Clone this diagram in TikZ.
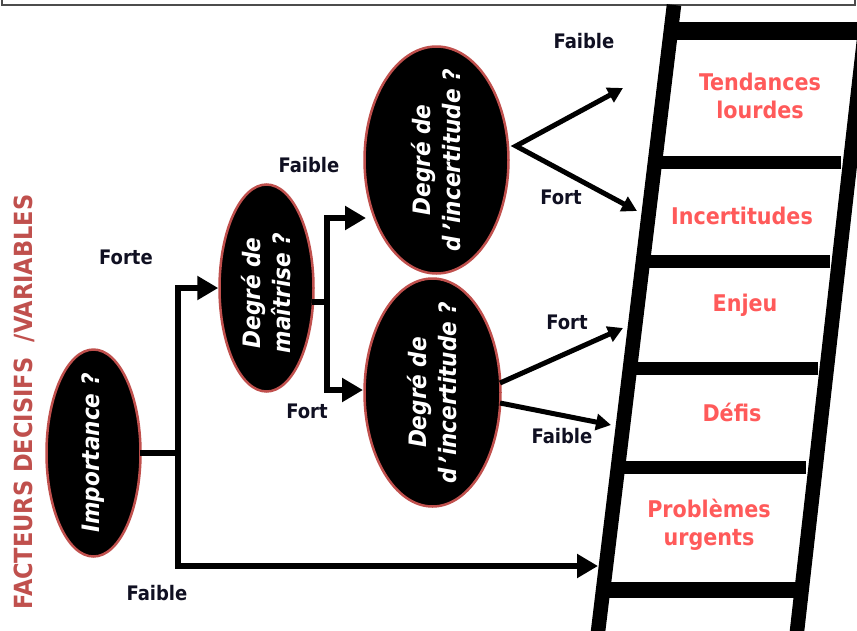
\documentclass[tikz,border=0pt]{standalone}
\usepackage{fontspec}
\setmainfont{DejaVu Sans Condensed}
\usetikzlibrary{shapes.geometric,arrows.meta}
\definecolor{elborder}{HTML}{C0504D}
\definecolor{facteur}{HTML}{C0504D}
\definecolor{ladtxt}{HTML}{FF5A5A}
\definecolor{labtxt}{HTML}{101022}
\begin{document}
\begin{tikzpicture}[x=1pt,y=-1pt,
  ell/.style={ellipse, draw=elborder, line width=2.5pt, fill=black, inner sep=0pt},
  elltxt/.style={rotate=90, text=white, font=\fontsize{24}{30}\selectfont\bfseries\itshape, align=center, inner sep=0pt},
  lab/.style={text=labtxt, font=\fontsize{20}{24}\selectfont\bfseries, inner sep=0pt},
  ladtext/.style={text=ladtxt, font=\fontsize{23}{28}\selectfont\bfseries, align=center, inner sep=0pt},
  conn/.style={line width=6.5pt, -{Triangle[length=21pt,width=23pt]}},
  stub/.style={line width=6.5pt},
  diag/.style={line width=5pt, {Triangle[length=15pt,width=16pt]}-{Triangle[length=15pt,width=16pt]}},
  diagone/.style={line width=5pt, -{Triangle[length=15pt,width=16pt]}},
  rail/.style={line width=14.5pt},
]
\clip (0,0) rectangle (857,630);
\fill[white] (0,0) rectangle (857,630);
% top frame border
\draw[line width=1.5pt, black!70] (2,-5) rectangle (855,5);

% ladder rails
\draw[rail] (674,5) -- (597,640);
\draw[rail] (864,40) -- (796,640);
% rungs
\draw[line width=18pt] (668,31) -- (860,31);
\draw[line width=13pt] (652,162) -- (841,162);
\draw[line width=13pt] (640,261) -- (830,261);
\draw[line width=13pt] (627,368) -- (818,368);
\draw[line width=13pt] (615,467) -- (806,467);
\draw[line width=16pt] (600,590) -- (803,590);

% ladder texts
\node[ladtext] (l1) at (760,96) {Tendances\\lourdes};
\node[ladtext] (l2) at (742,216) {Incertitudes};
\node[ladtext] (l3) at (745,305) {Enjeu};
\node[ladtext] (l4) at (732,412) {Défis};
\node[ladtext] (l5) at (709,525) {Problèmes\\urgents};

% vertical title
\node[rotate=90, text=facteur, font=\fontsize{25}{30}\selectfont\bfseries, inner sep=0pt] (title) at (24,402) {FACTEURS DECISIFS \ /VARIABLES};

% ellipses
\node[ell, minimum width=94pt, minimum height=207pt] (e1) at (93.5,453) {};
\node[elltxt] (e1t) at (e1) {Importance ?};
\node[ell, minimum width=94pt, minimum height=207pt] (e2) at (266.5,288) {};
\node[elltxt] (e2t) at ([yshift=-5pt]e2.center) {Degré de\\maîtrise ?};
\node[ell, minimum width=144pt, minimum height=227pt] (e3) at (436.5,160) {};
\node[elltxt] (e3t) at (e3) {Degré de\\d\,’incertitude ?};
\node[ell, minimum width=136pt, minimum height=228pt] (e4) at (432.5,392.5) {};
\node[elltxt] (e4t) at (e4) {Degré de\\d\,’incertitude ?};

% coordinates
\coordinate (j1) at (178,453);
\coordinate (lb) at (598,566);
\coordinate (j2) at (327,302);
\coordinate (t3) at (366,218);
\coordinate (t4) at (363,390);
\coordinate (j3) at (516,146);
\coordinate (tfa) at (623,88);
\coordinate (tfo) at (637,211);
\coordinate (s4a) at (500,383);
\coordinate (s4b) at (500,403);
\coordinate (tfo2) at (623,328);
\coordinate (tfa2) at (611,425);

% connectors
\draw[stub] ([xshift=-2pt]e1.east) -- ([xshift=3.25pt]j1);
\draw[conn] (j1) |- (e2.west);
\draw[conn] (j1) |- (lb);
\draw[stub] ([xshift=-3pt]e2.east |- j2) -- ([xshift=3.25pt]j2);
\draw[conn] (j2) |- (t3);
\draw[conn] (j2) |- (t4);
\draw[diag] (tfa) -- (j3) -- (tfo);
\draw[diagone] (s4a) -- (tfo2);
\draw[diagone] (s4b) -- (tfa2);

% branch labels
\node[lab] (f1) at (584,41) {Faible};
\node[lab] (f2) at (309,165) {Faible};
\node[lab] (f3) at (126,257) {Forte};
\node[lab] (f4) at (561,197) {Fort};
\node[lab] (f5) at (567,322) {Fort};
\node[lab] (f6) at (307,411) {Fort};
\node[lab] (f7) at (562,436) {Faible};
\node[lab] (f8) at (157,593) {Faible};
\end{tikzpicture}
\end{document}
